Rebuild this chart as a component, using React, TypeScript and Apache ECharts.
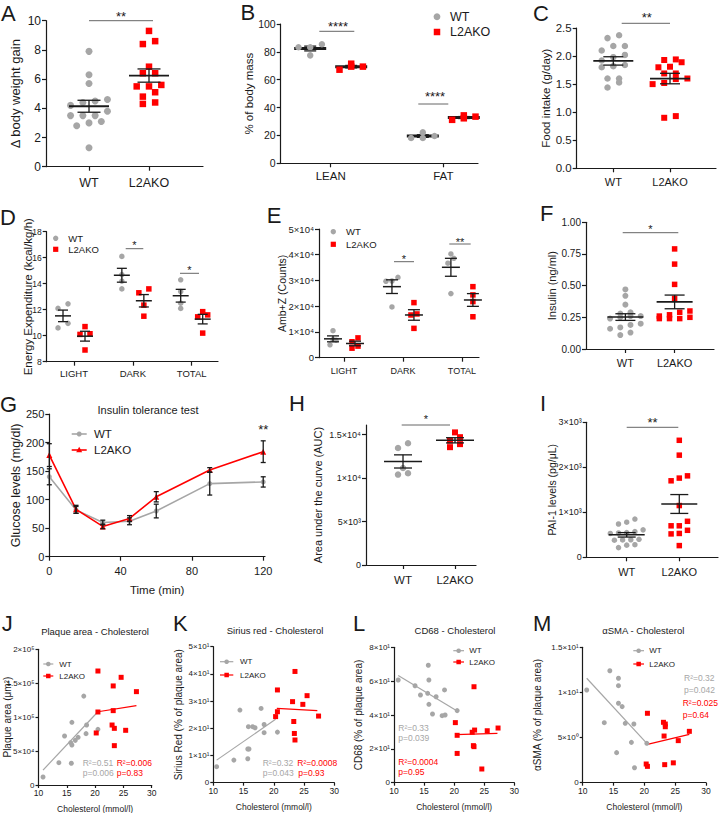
import React, { useEffect, useRef } from 'react';
import * as echarts from 'echarts';

// ---------------- data ----------------
const groupNames = ['WT', 'L2AKO'];
const bodyCompCats = ['LEAN', 'FAT'];
const phaseCats = ['LIGHT', 'DARK', 'TOTAL'];

// A – Δ body weight gain
const weightGainWT = [7.9, 6.3, 5.7, 4.6, 4.5, 4.4, 4.2, 3.8, 3.5, 3.5, 3.5, 3.1, 3.0, 2.8, 1.3];
const weightGainKO = [9.3, 8.6, 8.4, 6.85, 6.4, 6.4, 5.6, 5.5, 5.5, 5.1, 4.8, 4.4, 4.3];
// B – % of body mass
const leanWT = [85.5, 83.3, 83.3, 77.5];
const leanKO = [71.5, 67.2, 69.4, 69.4];
const fatWT = [18.2, 19.6, 22.2, 18.2];
const fatKO = [34.4, 31.2, 33.5, 32.3];
// C – food intake
const foodWT = [2.37, 2.32, 2.18, 2.18, 2.1, 2.02, 1.98, 1.92, 1.84, 1.82, 1.8, 1.6, 1.6, 1.53, 1.44];
const foodKO = [1.94, 1.93, 1.89, 1.81, 1.8, 1.69, 1.69, 1.6, 1.59, 1.52, 1.5, 0.93, 0.9];
// D – energy expenditure (LIGHT, DARK, TOTAL)
const energyWT = [[12.45, 12.1, 10.95, 10.6], [16.1, 14.7, 14.2, 13.6], [14.3, 13.4, 12.5, 12.1]];
const energyKO = [[10.7, 10.15, 10.1, 8.9], [13.6, 13.3, 12.35, 11.5], [11.85, 11.6, 11.45, 10.2]];
// E – Amb+Z counts
const ambWT = [[10500, 7000, 6800, 5000], [31200, 29800, 29700, 19700], [38600, 40300, 36700, 24900]];
const ambKO = [[6200, 7700, 3700, 4500], [21400, 17000, 16600, 11400], [27600, 24400, 21800, 15900]];
// F – insulin
const insulinWT = [0.47, 0.42, 0.35, 0.29, 0.28, 0.26, 0.26, 0.25, 0.24, 0.2, 0.19, 0.17, 0.16, 0.13, 0.11];
const insulinKO = [0.79, 0.67, 0.51, 0.4, 0.3, 0.29, 0.27, 0.26, 0.25, 0.24, 0.24, 0.24];
// G – insulin tolerance test
const ittTime = [0, 15, 30, 45, 60, 90, 120];
const ittWT = [140, 82, 60, 62, 80, 128, 131];
const ittWTsem = [14, 6, 4, 6, 12, 20, 9];
const ittKO = [178, 83, 53, 67, 105, 152, 184];
const ittKOsem = [20, 7, 4, 5, 9, 4, 19];
// H – AUC
const aucWT = [14000, 13450, 11150, 10550, 10400];
const aucKO = [15250, 14700, 14300, 13900, 13550];
// I – PAI-1
const pai1WT = [850, 780, 740, 610, 570, 550, 540, 530, 400, 390, 385, 380, 280, 270, 215];
const pai1KO = [2600, 2270, 1810, 1760, 1700, 1150, 800, 700, 700, 600, 530, 520, 260];
// J – plaque area vs cholesterol
const plaqueWT = [[10.8, 11800], [13.6, 32900], [14.6, 72200], [15.7, 62400], [15.9, 59000], [15.9, 92400], [15.8, 32000], [16.5, 65800], [17.0, 70300], [18.0, 131000], [18.5, 88400], [18.4, 75700], [20.5, 82000]];
const plaqueKO = [[20.5, 168000], [24.6, 158700], [23.2, 146000], [27.3, 137600], [20.5, 107600], [23.2, 109600], [23.0, 88400], [23.4, 83500], [25.4, 80600], [20.2, 76700], [23.4, 58000]];
const plaqueFitWT = [[10.8, 22000], [20.5, 108000]];
const plaqueFitKO = [[20.5, 108000], [27.3, 117000]];
// K – Sirius red vs cholesterol
const siriusWT = [[10.55, 5.9], [13.4, 8.3], [14.4, 26.7], [15.7, 12.4], [15.9, 12.4], [15.7, 8.8], [15.8, 20.6], [16.5, 20.6], [16.9, 20.2], [17.9, 27.3], [18.4, 21.4], [18.4, 18.4], [20.6, 18.6]];
const siriusKO = [[23.5, 40.9], [20.6, 34.1], [23.1, 29.8], [25.5, 32.0], [24.8, 28.8], [20.6, 26.1], [20.3, 24.3], [27.4, 24.5], [23.3, 22.5], [23.4, 18.1], [23.5, 15.7]];
const siriusFitWT = [[10.55, 8.3], [20.3, 23.3]];
const siriusFitKO = [[20.5, 27.3], [27.2, 26.5]];
// L – CD68 vs cholesterol
const cd68WT = [[10.7, 60.7], [13.5, 57.3], [14.4, 51.8], [15.7, 69.4], [15.8, 60.7], [15.6, 52.8], [15.8, 46.3], [17.0, 50.8], [16.4, 40.6], [18.0, 39.6], [18.5, 40.0], [18.4, 54.8], [20.5, 42.6]];
const cd68KO = [[23.3, 56.7], [20.2, 35.5], [20.5, 28.0], [23.4, 31.1], [23.0, 29.8], [25.5, 30.7], [27.3, 32.3], [23.3, 21.3], [23.2, 21.9], [20.5, 17.3], [24.6, 8.1]];
const cd68FitWT = [[10.7, 63.3], [20.5, 42.4]];
const cd68FitKO = [[20.2, 28.4], [27.2, 29.2]];
// M – αSMA vs cholesterol
const smaWT = [[10.65, 10.27], [13.5, 6.65], [14.4, 12.4], [15.8, 11.57], [15.8, 10.75], [15.8, 8.8], [16.4, 8.43], [16.9, 6.58], [18.3, 6.5], [17.9, 4.47], [15.5, 3.33], [18.4, 1.66], [20.4, 4.36]];
const smaKO = [[20.5, 7.69], [23.1, 6.69], [23.4, 6.5], [23.4, 6.2], [23.2, 5.17], [27.3, 5.69], [25.5, 4.66], [20.3, 2.07], [20.5, 1.81], [23.3, 2.0], [24.7, 2.2]];
const smaFitWT = [[10.65, 11.57], [20.4, 4.36]];
const smaFitKO = [[20.5, 4.25], [27.3, 5.36]];

// tick values / labels
const aTicks = [0, 2, 4, 6, 8, 10];
const aTickLabels = ['0', '2', '4', '6', '8', '10'];
const bTicks = [0, 20, 40, 60, 80, 100];
const bTickLabels = ['0', '20', '40', '60', '80', '100'];
const cTicks = [0, 0.5, 1, 1.5, 2, 2.5];
const cTickLabels = ['0.0', '0.5', '1.0', '1.5', '2.0', '2.5'];
const dTicks = [8, 10, 12, 14, 16, 18];
const dTickLabels = ['8', '10', '12', '14', '16', '18'];
const eTicks = [0, 10000, 20000, 30000, 40000, 50000];
const eTickLabels = ['0', '1×10⁴', '2×10⁴', '3×10⁴', '4×10⁴', '5×10⁴'];
const fTicks = [0, 0.25, 0.5, 0.75, 1];
const fTickLabels = ['0.00', '0.25', '0.50', '0.75', '1.00'];
const gYTicks = [0, 50, 100, 150, 200, 250];
const gYTickLabels = ['0', '50', '100', '150', '200', '250'];
const gXTicks = [0, 40, 80, 120];
const gXTickLabels = ['0', '40', '80', '120'];
const hTicks = [0, 5000, 10000, 15000];
const hTickLabels = ['0', '5×10³', '1×10⁴', '1.5×10⁴'];
const iTicks = [0, 1000, 2000, 3000];
const iTickLabels = ['0', '1×10³', '2×10³', '3×10³'];
const cholTicks = [10, 15, 20, 25, 30];
const cholTickLabels = ['10', '15', '20', '25', '30'];
const jTicks = [0, 50000, 100000, 150000, 200000];
const jTickLabels = ['0', '5×10⁴', '1×10⁵', '1.5×10⁵', '2×10⁵'];
const kTicks = [0, 10, 20, 30, 40, 50];
const kTickLabels = ['0', '1×10¹', '2×10¹', '3×10¹', '4×10¹', '5×10¹'];
const lTicks = [0, 20, 40, 60, 80];
const lTickLabels = ['0', '2×10¹', '4×10¹', '6×10¹', '8×10¹'];
const mTicks = [0, 5, 10, 15];
const mTickLabels = ['0', '5×10⁰', '1×10¹', '1.5×10¹'];

// ---------------- styling / layout ----------------
const FF = "'Liberation Sans', Arial, Helvetica, sans-serif";
const INK = '#1a1a1a';
const GREY = '#a6a6a6';
const RED = '#ff0000';
const BAR = '#666666';

const P: any = {
  A: { l: 46, t: 20.7, r: 203, b: 166.7 },
  B: { l: 280.7, t: 24, r: 478, b: 163.3 },
  C: { l: 576.7, t: 28, r: 716, b: 168.3 },
  D: { l: 46.7, t: 231.7, r: 218, b: 361.7 },
  E: { l: 319, t: 229, r: 479, b: 357.7 },
  F: { l: 586, t: 222.3, r: 714, b: 349 },
  G: { l: 49.3, t: 414, r: 265, b: 556.7 },
  H: { l: 366, t: 425, r: 476, b: 565 },
  I: { l: 586.7, t: 422.3, r: 718, b: 557.3 },
  J: { l: 38.5, t: 649.3, r: 151.7, b: 785 },
  K: { l: 213.3, t: 646.7, r: 334.3, b: 782.7 },
  L: { l: 394, t: 647.3, r: 514.3, b: 782.7 },
  M: { l: 582.7, t: 647.3, r: 706, b: 782.7 },
};

function mean(a: number[]) {
  return a.reduce((s, v) => s + v, 0) / a.length;
}
function sem(a: number[]) {
  const m = mean(a);
  const v = a.reduce((s, x) => s + (x - m) * (x - m), 0) / (a.length - 1);
  return Math.sqrt(v / a.length);
}

// GraphPad-like column scatter: values close in height share a row
function swarm(vals: number[], cx: number, pxX: number, pxY: number, spacing: number, rowPx: number, maxPerRow: number) {
  const order = vals.map((_, i) => i).sort((a, b) => vals[a] - vals[b]);
  const rows: number[][] = [];
  let cur: number[] = [];
  order.forEach((i) => {
    if (cur.length && ((vals[i] - vals[cur[0]]) * pxY > rowPx || cur.length >= maxPerRow)) {
      rows.push(cur);
      cur = [];
    }
    cur.push(i);
  });
  if (cur.length) rows.push(cur);
  const out: number[][] = new Array(vals.length);
  rows.forEach((r) =>
    r.forEach((i, k) => {
      out[i] = [cx + ((k - (r.length - 1) / 2) * spacing) / pxX, vals[i]];
    })
  );
  return out;
}

function labelFn(ticks: number[], labels: string[]) {
  return (v: number) => {
    const i = ticks.findIndex((t) => Math.abs(t - v) < 1e-6 * Math.max(1, Math.abs(t)));
    return i >= 0 ? labels[i] : '';
  };
}

function buildOption() {
  const grids: any[] = [];
  const xAxes: any[] = [];
  const yAxes: any[] = [];
  const series: any[] = [];
  const g: any[] = [];

  const addGrid = (b: any) => {
    grids.push({ left: b.l, top: b.t, width: b.r - b.l, height: b.b - b.t, containLabel: false, outerBoundsMode: 'none' });
    return grids.length - 1;
  };

  const axisBase = (gi: number, min: number, max: number, ticks: number[], labels: string[], fs: number, margin: number, tickLen: number) => ({
    gridIndex: gi,
    type: 'value',
    min,
    max,
    axisLine: { show: true, onZero: false, lineStyle: { color: INK, width: 1.2 } },
    axisTick: { show: true, length: tickLen, customValues: ticks, lineStyle: { color: INK, width: 1.2 } },
    axisLabel: { show: true, customValues: ticks, formatter: labelFn(ticks, labels), fontSize: fs, color: INK, fontFamily: FF, margin },
    splitLine: { show: false },
    splitArea: { show: false },
    minorTick: { show: false },
    nameMoveOverlap: false,
  });

  const meanSemRender = (params: any, api: any) => {
    const x = api.value(0);
    const m = api.value(1);
    const s = api.value(2);
    const hw = api.value(3);
    const cw = api.value(4);
    const lw = api.value(5);
    const c = api.coord([x, m]);
    const top = api.coord([x, m + s]);
    const bot = api.coord([x, m - s]);
    const st = { stroke: INK, lineWidth: 1.3 };
    const children: any[] = [
      { type: 'line', shape: { x1: c[0], y1: top[1], x2: c[0], y2: bot[1] }, style: st },
      { type: 'line', shape: { x1: c[0] - cw, y1: top[1], x2: c[0] + cw, y2: top[1] }, style: st },
      { type: 'line', shape: { x1: c[0] - cw, y1: bot[1], x2: c[0] + cw, y2: bot[1] }, style: st },
    ];
    if (hw > 0) children.push({ type: 'line', shape: { x1: c[0] - hw, y1: c[1], x2: c[0] + hw, y2: c[1] }, style: { stroke: INK, lineWidth: lw } });
    return { type: 'group', children };
  };

  const dotPanel = (p: any) => {
    const gi = addGrid(p.box);
    const pxX = (p.box.r - p.box.l) / (p.xMax - p.xMin);
    const pxY = (p.box.b - p.box.t) / (p.yMax - p.yMin);
    const catPos = p.cats.map((_: any, i: number) => i + 1);
    xAxes.push(axisBase(gi, p.xMin, p.xMax, catPos, p.cats, p.catFs, p.catMargin, 4));
    yAxes.push({
      ...axisBase(gi, p.yMin, p.yMax, p.yTicks, p.yLabels, p.yFs, 5, 4),
      name: p.yName,
      nameLocation: 'middle',
      nameRotate: 90,
      nameGap: p.yNameGap,
      nameTextStyle: { fontSize: p.yNameFs, color: INK, fontFamily: FF },
    });
    const items: any[] = [];
    p.groups.forEach((gr: any) => {
      const cx = gr.cat + gr.dx / pxX;
      series.push({
        type: 'scatter',
        xAxisIndex: gi,
        yAxisIndex: gi,
        silent: true,
        data: swarm(gr.vals, cx, pxX, pxY, gr.spacing, gr.rowPx, gr.maxPerRow || 99),
        symbol: gr.symbol,
        symbolSize: gr.size,
        itemStyle: { color: gr.color, opacity: 1 },
        z: gr.over ? 6 : 3,
      });
      items.push([cx, mean(gr.vals), sem(gr.vals), gr.meanHalf, gr.capHalf, gr.meanW]);
    });
    series.push({ type: 'custom', xAxisIndex: gi, yAxisIndex: gi, silent: true, z: 5, data: items, encode: { x: 0, y: 1 }, renderItem: meanSemRender });
  };

  // A
  dotPanel({
    box: P.A, xMin: 0.2833, xMax: 2.9, cats: groupNames, catFs: 12.5, catMargin: 9.5,
    yMin: 0, yMax: 10, yTicks: aTicks, yLabels: aTickLabels, yFs: 12, yName: 'Δ body weight gain', yNameFs: 13, yNameGap: 24.5,
    groups: [
      { cat: 1, dx: 0, vals: weightGainWT, color: GREY, symbol: 'circle', size: 7, spacing: 12.3, rowPx: 6, maxPerRow: 4, meanHalf: 20, capHalf: 11.5, meanW: 1.8 },
      { cat: 2, dx: 0, vals: weightGainKO, color: RED, symbol: 'rect', size: 6.5, spacing: 12.3, rowPx: 6, maxPerRow: 4, meanHalf: 20, capHalf: 11.5, meanW: 1.8 },
    ],
  });
  // B
  const bGroup = (cat: number, dx: number, vals: number[], color: string, symbol: string) => ({
    cat, dx, vals, color, symbol, size: 6.5, spacing: 11.7, rowPx: 5, maxPerRow: 3, meanHalf: 16, capHalf: 6, meanW: 3, over: true,
  });
  dotPanel({
    box: P.B, xMin: 0.556, xMax: 2.308, cats: bodyCompCats, catFs: 11.5, catMargin: 6.5,
    yMin: 0, yMax: 100, yTicks: bTicks, yLabels: bTickLabels, yFs: 10.5, yName: '% of body mass', yNameFs: 11.5, yNameGap: 26,
    groups: [
      bGroup(1, -20.5, leanWT, GREY, 'circle'),
      bGroup(1, 20.5, leanKO, RED, 'rect'),
      bGroup(2, -20.5, fatWT, GREY, 'circle'),
      bGroup(2, 20.5, fatKO, RED, 'rect'),
    ],
  });
  // C
  dotPanel({
    box: P.C, xMin: 0.3545, xMax: 2.811, cats: groupNames, catFs: 11, catMargin: 8,
    yMin: 0, yMax: 2.5, yTicks: cTicks, yLabels: cTickLabels, yFs: 11.5, yName: 'Food intake (g/day)', yNameFs: 11.5, yNameGap: 24.4,
    groups: [
      { cat: 1, dx: 0, vals: foodWT, color: GREY, symbol: 'circle', size: 6.5, spacing: 11.6, rowPx: 6, maxPerRow: 4, meanHalf: 20, capHalf: 10, meanW: 1.8 },
      { cat: 2, dx: 0, vals: foodKO, color: RED, symbol: 'rect', size: 6, spacing: 11.6, rowPx: 6, maxPerRow: 4, meanHalf: 20, capHalf: 10, meanW: 1.8 },
    ],
  });
  // D
  const dGroups: any[] = [];
  phaseCats.forEach((_, i) => {
    dGroups.push({ cat: i + 1, dx: -11, vals: energyWT[i], color: GREY, symbol: 'circle', size: 5.5, spacing: 10, rowPx: 4.6, meanHalf: 8, capHalf: 5, meanW: 1.5 });
    dGroups.push({ cat: i + 1, dx: 11, vals: energyKO[i], color: RED, symbol: 'rect', size: 5.5, spacing: 10, rowPx: 4.6, meanHalf: 8, capHalf: 5, meanW: 1.5 });
  });
  dotPanel({
    box: P.D, xMin: 0.536, xMax: 3.447, cats: phaseCats, catFs: 9.5, catMargin: 7,
    yMin: 8, yMax: 18, yTicks: dTicks, yLabels: dTickLabels, yFs: 8.5, yName: 'Energy Expenditure (kcal/kg/h)', yNameFs: 11.5, yNameGap: 13,
    groups: dGroups,
  });
  // E
  const eGroups: any[] = [];
  phaseCats.forEach((_, i) => {
    eGroups.push({ cat: i + 1, dx: -11, vals: ambWT[i], color: GREY, symbol: 'circle', size: 5.5, spacing: 6, rowPx: 5, meanHalf: 9, capHalf: 6, meanW: 1.5 });
    eGroups.push({ cat: i + 1, dx: 11, vals: ambKO[i], color: RED, symbol: 'rect', size: 5.5, spacing: 6, rowPx: 5, meanHalf: 9, capHalf: 6, meanW: 1.5 });
  });
  dotPanel({
    box: P.E, xMin: 0.576, xMax: 3.29, cats: phaseCats, catFs: 9, catMargin: 8.8,
    yMin: 0, yMax: 50000, yTicks: eTicks, yLabels: eTickLabels, yFs: 9.5, yName: 'Amb+Z (Counts)', yNameFs: 10.5, yNameGap: 32,
    groups: eGroups,
  });
  // F
  dotPanel({
    box: P.F, xMin: 0.2, xMax: 2.8, cats: groupNames, catFs: 11, catMargin: 8,
    yMin: 0, yMax: 1, yTicks: fTicks, yLabels: fTickLabels, yFs: 10, yName: 'Insulin (ng/ml)', yNameFs: 11, yNameGap: 28.8,
    groups: [
      { cat: 1, dx: 0, vals: insulinWT, color: GREY, symbol: 'circle', size: 6, spacing: 10.2, rowPx: 5.5, maxPerRow: 4, meanHalf: 18, capHalf: 10, meanW: 1.6 },
      { cat: 2, dx: 0, vals: insulinKO, color: RED, symbol: 'rect', size: 5.5, spacing: 10.2, rowPx: 5.5, maxPerRow: 4, meanHalf: 18, capHalf: 10, meanW: 1.6 },
    ],
  });

  // G – line chart
  {
    const gi = addGrid(P.G);
    xAxes.push({
      ...axisBase(gi, 0, 121, gXTicks, gXTickLabels, 11, 9, 4),
      name: 'Time (min)', nameLocation: 'middle', nameGap: 27.5,
      nameTextStyle: { fontSize: 11.5, color: INK, fontFamily: FF },
    });
    yAxes.push({
      ...axisBase(gi, 0, 250, gYTicks, gYTickLabels, 11, 5, 4),
      name: 'Glucose levels (mg/dl)', nameLocation: 'middle', nameRotate: 90, nameGap: 27,
      nameTextStyle: { fontSize: 12.5, color: INK, fontFamily: FF },
    });
    series.push({
      type: 'line', name: 'WT', xAxisIndex: gi, yAxisIndex: gi, silent: true, z: 3,
      data: ittTime.map((t, i) => [t, ittWT[i]]), symbol: 'circle', symbolSize: 5, showSymbol: true,
      itemStyle: { color: GREY }, lineStyle: { color: GREY, width: 1.6 },
    });
    series.push({
      type: 'line', name: 'L2AKO', xAxisIndex: gi, yAxisIndex: gi, silent: true, z: 4,
      data: ittTime.map((t, i) => [t, ittKO[i]]), symbol: 'triangle', symbolSize: 6, showSymbol: true,
      itemStyle: { color: RED }, lineStyle: { color: RED, width: 1.6 },
    });
    const errs: any[] = [];
    ittTime.forEach((t, i) => {
      errs.push([t, ittWT[i], ittWTsem[i], 0, 2.5, 0]);
      errs.push([t, ittKO[i], ittKOsem[i], 0, 2.5, 0]);
    });
    series.push({ type: 'custom', xAxisIndex: gi, yAxisIndex: gi, silent: true, z: 6, data: errs, encode: { x: 0, y: 1 }, renderItem: meanSemRender });
  }

  // H
  dotPanel({
    box: P.H, xMin: 0.288, xMax: 2.404, cats: groupNames, catFs: 11.5, catMargin: 9,
    yMin: 0, yMax: 16100, yTicks: hTicks, yLabels: hTickLabels, yFs: 9, yName: 'Area under the curve (AUC)', yNameFs: 11, yNameGap: 42.5,
    groups: [
      { cat: 1, dx: 0, vals: aucWT, color: GREY, symbol: 'circle', size: 6.5, spacing: 10, rowPx: 6, meanHalf: 19, capHalf: 9, meanW: 1.6 },
      { cat: 2, dx: 0, vals: aucKO, color: RED, symbol: 'rect', size: 6, spacing: 10, rowPx: 6, meanHalf: 19, capHalf: 9, meanW: 1.6 },
    ],
  });
  // I
  dotPanel({
    box: P.I, xMin: 0.2395, xMax: 2.736, cats: groupNames, catFs: 11, catMargin: 9,
    yMin: 0, yMax: 3000, yTicks: iTicks, yLabels: iTickLabels, yFs: 9, yName: 'PAI-1 levels (pg/μL)', yNameFs: 10.5, yNameGap: 29.7,
    groups: [
      { cat: 1, dx: 0, vals: pai1WT, color: GREY, symbol: 'circle', size: 5.5, spacing: 8.2, rowPx: 5.5, maxPerRow: 5, meanHalf: 18, capHalf: 9, meanW: 1.5 },
      { cat: 2, dx: 0, vals: pai1KO, color: RED, symbol: 'rect', size: 5.5, spacing: 8.2, rowPx: 5.5, maxPerRow: 4, meanHalf: 18, capHalf: 9, meanW: 1.5 },
    ],
  });

  // J–M correlation panels
  const corrPanel = (p: any) => {
    const gi = addGrid(p.box);
    xAxes.push({
      ...axisBase(gi, 10, 30, cholTicks, cholTickLabels, 8.5, 3.5, 3),
      name: 'Cholesterol (mmol/l)', nameLocation: 'middle', nameGap: p.xNameGap,
      nameTextStyle: { fontSize: 8.5, color: INK, fontFamily: FF },
    });
    yAxes.push({
      ...axisBase(gi, 0, p.yMax, p.yTicks, p.yLabels, 8, 4, 3),
      name: p.yName, nameLocation: 'middle', nameRotate: 90, nameGap: p.yNameGap,
      nameTextStyle: { fontSize: 10, color: INK, fontFamily: FF },
    });
    series.push({ type: 'line', xAxisIndex: gi, yAxisIndex: gi, silent: true, z: 2, data: p.fitWT, symbol: 'none', showSymbol: false, lineStyle: { color: GREY, width: 1.2 }, itemStyle: { color: GREY } });
    series.push({ type: 'line', xAxisIndex: gi, yAxisIndex: gi, silent: true, z: 2, data: p.fitKO, symbol: 'none', showSymbol: false, lineStyle: { color: RED, width: 1.2 }, itemStyle: { color: RED } });
    series.push({ type: 'scatter', xAxisIndex: gi, yAxisIndex: gi, silent: true, z: 3, data: p.wt, symbol: 'circle', symbolSize: 5, itemStyle: { color: GREY, opacity: 1 } });
    series.push({ type: 'scatter', xAxisIndex: gi, yAxisIndex: gi, silent: true, z: 4, data: p.ko, symbol: 'rect', symbolSize: 5, itemStyle: { color: RED, opacity: 1 } });
  };
  corrPanel({ box: P.J, yMax: 200000, yTicks: jTicks, yLabels: jTickLabels, yName: 'Plaque area (μm²)', yNameGap: 25.7, xNameGap: 19, wt: plaqueWT, ko: plaqueKO, fitWT: plaqueFitWT, fitKO: plaqueFitKO });
  corrPanel({ box: P.K, yMax: 50, yTicks: kTicks, yLabels: kTickLabels, yName: 'Sirius Red (% of plaque area)', yNameGap: 30, xNameGap: 19.8, wt: siriusWT, ko: siriusKO, fitWT: siriusFitWT, fitKO: siriusFitKO });
  corrPanel({ box: P.L, yMax: 80, yTicks: lTicks, yLabels: lTickLabels, yName: 'CD68 (% of plaque area)', yNameGap: 30.7, xNameGap: 19.8, wt: cd68WT, ko: cd68KO, fitWT: cd68FitWT, fitKO: cd68FitKO });
  corrPanel({ box: P.M, yMax: 15, yTicks: mTicks, yLabels: mTickLabels, yName: 'αSMA (% of plaque area)', yNameGap: 40, xNameGap: 19.8, wt: smaWT, ko: smaKO, fitWT: smaFitWT, fitKO: smaFitKO });

  // ---------- annotations ----------
  const T = (x: number, y: number, text: string, fs: number, fill = INK, align = 'left') => ({
    type: 'text', x, y, z: 50, silent: true,
    style: { text, fontSize: fs, fontFamily: FF, fill, align, verticalAlign: 'middle' },
  });
  const Ln = (x1: number, y1: number, x2: number, y2: number, stroke: string, lw: number) => ({
    type: 'line', z: 50, silent: true, shape: { x1, y1, x2, y2 }, style: { stroke, lineWidth: lw },
  });
  const dot = (cx: number, cy: number, r: number, fill: string) => ({ type: 'circle', z: 51, silent: true, shape: { cx, cy, r }, style: { fill } });
  const sq = (cx: number, cy: number, s: number, fill: string) => ({ type: 'rect', z: 51, silent: true, shape: { x: cx - s / 2, y: cy - s / 2, width: s, height: s }, style: { fill } });
  const tri = (cx: number, cy: number, s: number, fill: string) => ({
    type: 'polygon', z: 51, silent: true,
    shape: { points: [[cx, cy - s * 0.6], [cx + s * 0.55, cy + s * 0.4], [cx - s * 0.55, cy + s * 0.4]] }, style: { fill },
  });

  // panel letters
  const letters: any[] = [
    ['A', 1, 13.2], ['B', 240.5, 12.8], ['C', 533, 13.2], ['D', 0, 217.5], ['E', 266.7, 215], ['F', 540, 213.7],
    ['G', 0, 404.7], ['H', 289, 403.3], ['I', 540, 403], ['J', 1.7, 623.3], ['K', 173, 623.3], ['L', 353, 623.3], ['M', 533, 623.3],
  ];
  letters.forEach(([s, x, y]) => g.push(T(x, y, s, 22)));

  // significance bars
  const sig = (x1: number, x2: number, y: number, text: string, tx: number, ty: number, fs: number) => {
    if (x2 > x1) g.push(Ln(x1, y, x2, y, BAR, 1));
    g.push(T(tx, ty + fs * 0.22, text, fs, INK, 'center'));
  };
  sig(89, 153, 20.7, '**', 121, 13.3, 13);
  sig(319.3, 354.3, 31.3, '****', 338, 24, 13);
  sig(418.3, 448.3, 104, '****', 435, 93.5, 13);
  sig(621.7, 670, 23.3, '**', 646.7, 15, 13);
  sig(125.7, 143.3, 248.7, '*', 134.5, 243, 11);
  sig(180, 199, 273.3, '*', 189.5, 268, 11);
  sig(394, 414, 261.7, '*', 404, 256.7, 11);
  sig(449.3, 470.7, 244, '**', 460, 239.3, 11);
  sig(622.7, 678.3, 232.7, '*', 650.5, 226.7, 11);
  sig(0, 0, 0, '**', 263.3, 426.7, 13);
  sig(401.7, 450, 425, '*', 426, 416.7, 11);
  sig(626.7, 678.3, 427.3, '**', 652.5, 420, 13);

  // legends
  g.push(dot(437, 16.7, 3.4, GREY), T(450, 16.7, groupNames[0], 12.5));
  g.push(sq(437, 32, 6.5, RED), T(450, 32, groupNames[1], 12.5));
  g.push(dot(55.7, 238.3, 2.7, GREY), T(68.3, 238.3, groupNames[0], 9.5));
  g.push(sq(55.7, 249.3, 5.2, RED), T(68.3, 249.3, groupNames[1], 9.5));
  g.push(dot(333.3, 231.7, 2.7, GREY), T(346, 231.7, groupNames[0], 9.5));
  g.push(sq(333.3, 244.3, 5.2, RED), T(346, 244.3, groupNames[1], 9.5));
  // G legend
  g.push(Ln(71.7, 434, 86.7, 434, GREY, 1.6), dot(79.2, 434, 2.5, GREY), T(94, 434, groupNames[0], 11.5));
  g.push(Ln(71.7, 450, 86.7, 450, RED, 1.6), tri(79.2, 450, 5.5, RED), T(94, 450, groupNames[1], 11.5));
  // J–M legends
  const corrLegend = (x1: number, x2: number, tx: number, y1: number, y2: number) => {
    const cx = (x1 + x2) / 2;
    g.push(Ln(x1, y1, x2, y1, GREY, 1.2), dot(cx, y1, 2.3, GREY), T(tx, y1, groupNames[0], 8));
    g.push(Ln(x1, y2, x2, y2, RED, 1.2), sq(cx, y2, 4.5, RED), T(tx, y2, groupNames[1], 8));
  };
  corrLegend(43.3, 53.3, 59.3, 664, 676);
  corrLegend(220, 233.3, 240, 661.7, 675);
  corrLegend(453.3, 464, 469.3, 650.7, 662);
  corrLegend(633.3, 644, 649.3, 650.7, 664);

  // titles
  g.push(T(148, 410, 'Insulin tolerance test', 11, INK, 'center'));
  g.push(T(95, 631, 'Plaque area - Cholesterol', 9.5, INK, 'center'));
  g.push(T(275, 630, 'Sirius red - Cholesterol', 9.5, INK, 'center'));
  g.push(T(455, 630, 'CD68 - Cholesterol', 9.5, INK, 'center'));
  g.push(T(643.3, 630, 'αSMA - Cholesterol', 9.5, INK, 'center'));

  // regression statistics
  g.push(T(82.7, 763.3, 'R²=0.51', 8.5, GREY), T(82.7, 773.3, 'p=0.006', 8.5, GREY));
  g.push(T(116.7, 763.3, 'R²=0.006', 8.5, RED), T(116.7, 773.3, 'p=0.83', 8.5, RED));
  g.push(T(262.7, 762.7, 'R²=0.32', 8.5, GREY), T(262.7, 773.3, 'p=0.043', 8.5, GREY));
  g.push(T(297.3, 762.7, 'R²=0.0008', 8.5, RED), T(298.3, 773.3, 'p=0.93', 8.5, RED));
  g.push(T(398.3, 728.3, 'R²=0.33', 8.5, GREY), T(398.3, 738.3, 'p=0.039', 8.5, GREY));
  g.push(T(398.3, 761.7, 'R²=0.0004', 8.5, RED), T(398.3, 771.7, 'p=0.95', 8.5, RED));
  g.push(T(684, 678.3, 'R²=0.32', 8.5, GREY), T(684, 690, 'p=0.042', 8.5, GREY));
  g.push(T(682.7, 703.3, 'R²=0.025', 8.5, RED), T(682.7, 715, 'p=0.64', 8.5, RED));

  return {
    animation: false,
    backgroundColor: '#ffffff',
    textStyle: { fontFamily: FF },
    grid: grids,
    xAxis: xAxes,
    yAxis: yAxes,
    series,
    graphic: { elements: g },
  };
}

export default function App() {
  const ref = useRef<HTMLDivElement>(null);
  useEffect(() => {
    if (!ref.current) return;
    const chart = echarts.init(ref.current, null, { renderer: 'svg' });
    chart.setOption(buildOption() as any);
    return () => chart.dispose();
  }, []);
  return <div ref={ref} style={{ position: 'absolute', left: 0, top: 0, width: 719, height: 813, background: '#fff' }} />;
}
